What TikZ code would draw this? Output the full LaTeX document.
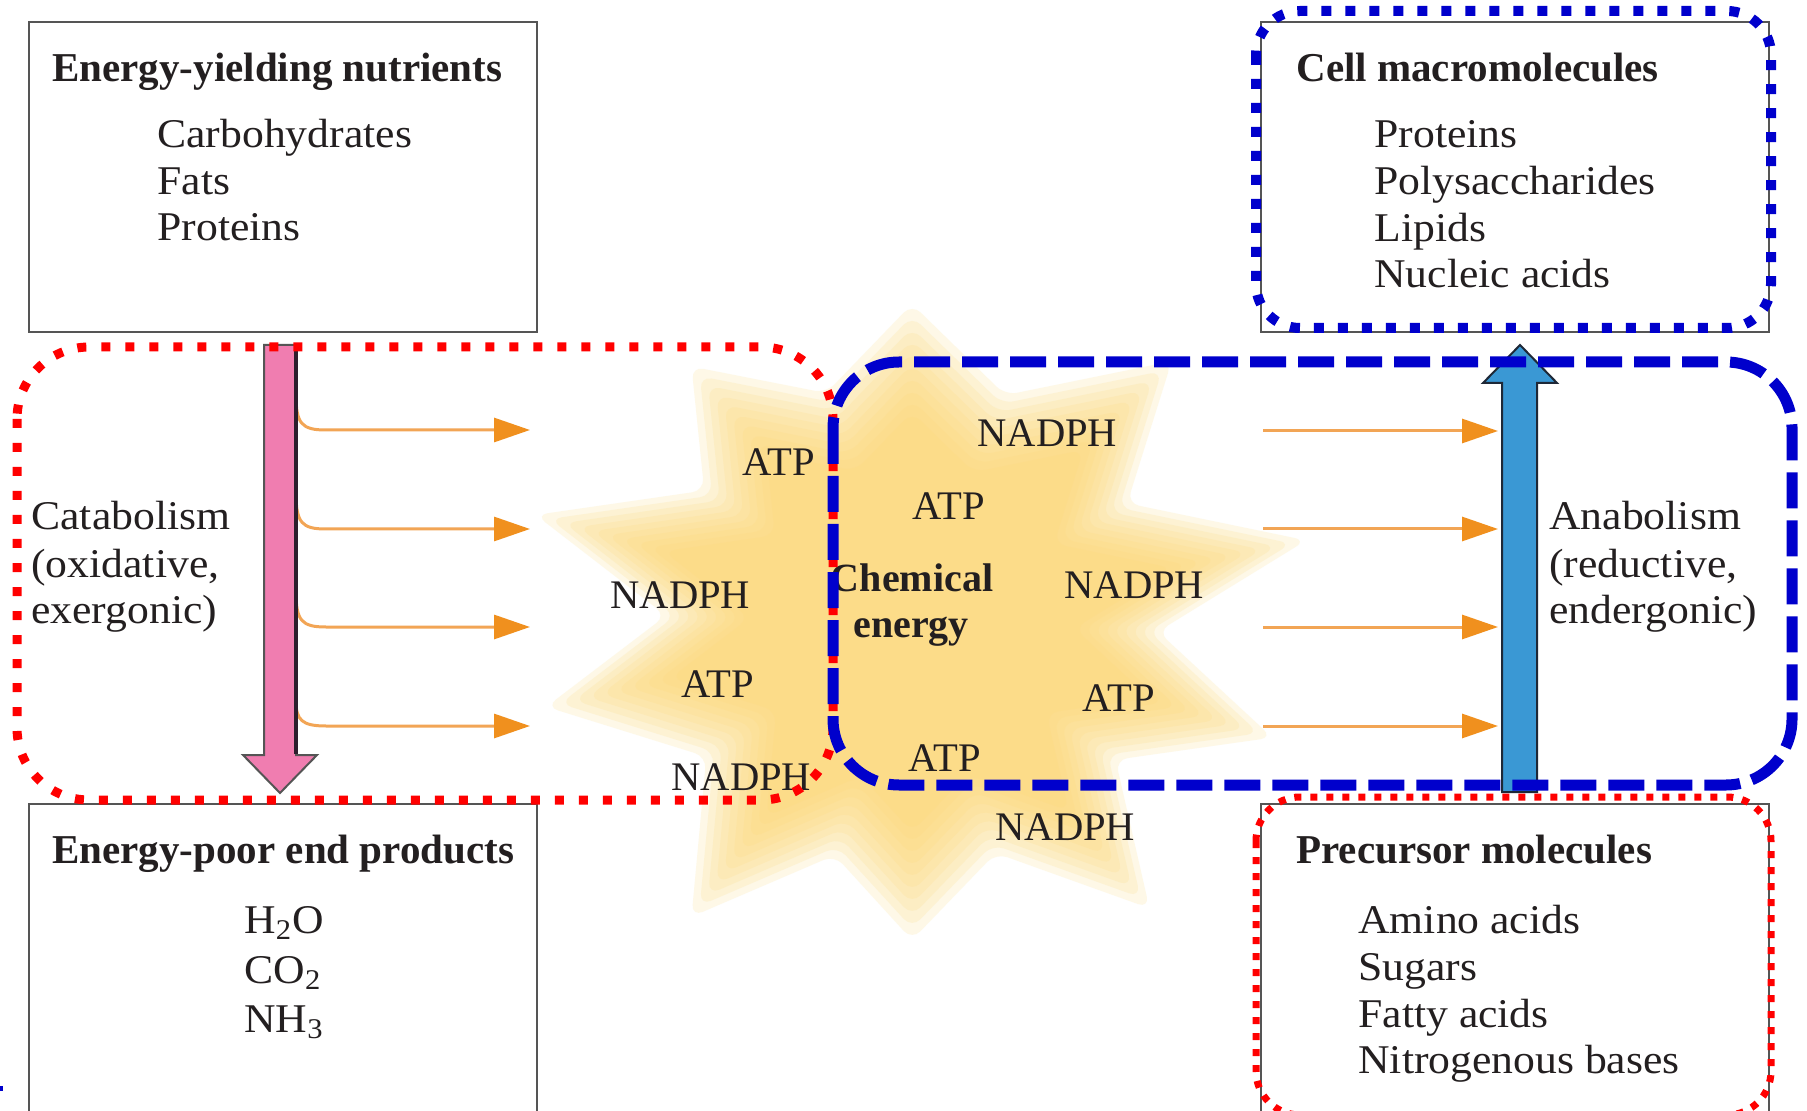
\documentclass[tikz,border=0pt]{standalone}
\usepackage{fontspec}
\newfontfamily\tms{Liberation Serif}
\newfontfamily\garm[FakeStretch=1.07]{Liberation Serif}
\usetikzlibrary{arrows.meta}
\definecolor{txt}{RGB}{35,31,32}
\definecolor{boxgray}{RGB}{85,85,85}
\definecolor{redd}{RGB}{255,0,0}
\definecolor{blued}{RGB}{0,0,204}
\definecolor{pinkf}{RGB}{240,125,176}
\definecolor{pinkedge}{RGB}{45,30,45}
\definecolor{bluef}{RGB}{58,152,212}
\definecolor{blueedge}{RGB}{30,40,55}
\definecolor{orline}{RGB}{242,165,85}
\definecolor{orhead}{RGB}{240,144,30}
\definecolor{starc}{RGB}{252,216,118}
\begin{document}
\begin{tikzpicture}[x=0.5pt,y=-0.5pt,
  boxst/.style={draw=boxgray, line width=1pt, inner sep=0pt, outer sep=0pt, anchor=north west},
  ttl/.style={anchor=base west, inner sep=0pt, font=\tms\bfseries\fontsize{20.5}{24}\selectfont, text=txt},
  itm/.style={anchor=base west, inner sep=0pt, font=\garm\fontsize{20.4}{24}\selectfont, text=txt},
  lbl/.style={anchor=base west, inner sep=0pt, font=\tms\fontsize{20.3}{24}\selectfont, text=txt},
  chem/.style={anchor=base, inner sep=0pt, font=\tms\bfseries\fontsize{20}{24}\selectfont, text=txt},
  orarrow/.style={draw=orline, line width=1.5pt, -{Triangle[length=18pt,width=12pt,color=orhead]}},
  bigred/.style={draw=redd, line width=4.5pt, dash pattern=on 4.5pt off 7.5pt, rounded corners=36pt},
  bigblue/.style={draw=blued, line width=5.5pt, dash pattern=on 18pt off 6pt, rounded corners=33pt},
  dotblue/.style={draw=blued, line width=5pt, dash pattern=on 5pt off 7pt, rounded corners=22pt},
  dotred/.style={draw=redd, line width=3.5pt, dash pattern=on 3.5pt off 4.5pt, rounded corners=22pt}
]
\useasboundingbox (0,0) rectangle (1807,1111);
\clip (0,0) rectangle (1807,1111);
\fill[white] (0,0) rectangle (1807,1111);

% soft star burst (layered to imitate a blur)
\foreach \s in {1.06,1.02,0.98,0.94,0.90,0.86,0.82,0.78,0.74,0.70}{
  \begin{scope}[shift={(912,622)}, scale=\s]
    \fill[starc, opacity=0.17, rounded corners=6pt]
      (0,-300) -- (88,-214) -- (245,-246) -- (203,-112) -- (372,-77) -- (232,9)
      -- (340,109) -- (192,130) -- (224,270) -- (79,218) -- (0,300) -- (-73,220)
      -- (-208,278) -- (-194,127) -- (-345,80) -- (-232,-6) -- (-355,-101)
      -- (-196,-124) -- (-208,-241) -- (-81,-216) -- cycle;
  \end{scope}
}

% boxes
\node[boxst, minimum width=254pt, minimum height=155pt] (nutr) at (29,22) {};
\node[boxst, minimum width=254pt, minimum height=155pt] (macro) at (1261,22) {};
\node[boxst, minimum width=254pt, minimum height=170pt] (endp) at (29,804) {};
\node[boxst, minimum width=254pt, minimum height=170pt] (prec) at (1261,804) {};

% box texts
\node[ttl] (t1) at (52,82) {Energy-yielding nutrients};
\node[itm] (t1a) at (157,148) {Carbohydrates};
\node[itm] (t1b) at (157,195) {Fats};
\node[itm] (t1c) at (157,241) {Proteins};

\node[ttl] (t2) at (1296,82) {Cell macromolecules};
\node[itm] (t2a) at (1374,148) {Proteins};
\node[itm] (t2b) at (1374,195) {Polysaccharides};
\node[itm] (t2c) at (1374,242) {Lipids};
\node[itm] (t2d) at (1374,288) {Nucleic acids};

\node[ttl] (t3) at (52,863) {Energy-poor end products};
\node[itm] (t3a) at (244,933) {H\textsubscript{2}O};
\node[itm] (t3b) at (244,983) {CO\textsubscript{2}};
\node[itm] (t3c) at (244,1032) {NH\textsubscript{3}};

\node[ttl] (t4) at (1296,863) {Precursor molecules};
\node[itm] (t4a) at (1358,933) {Amino acids};
\node[itm] (t4b) at (1358,980) {Sugars};
\node[itm] (t4c) at (1358,1027) {Fatty acids};
\node[itm] (t4d) at (1358,1073) {Nitrogenous bases};

% side labels
\node[itm] (cat1) at (31,530) {Catabolism};
\node[itm] (cat2) at (31,577) {(oxidative,};
\node[itm] (cat3) at (31,623) {exergonic)};
\node[itm] (ana1) at (1549,530) {Anabolism};
\node[itm] (ana2) at (1549,577) {(reductive,};
\node[itm] (ana3) at (1549,623) {endergonic)};

% centre labels
\node[lbl] (a1) at (742,476) {ATP};
\node[lbl] (n1) at (977,447) {NADPH};
\node[lbl] (a2) at (912,520) {ATP};
\node[lbl] (n2) at (610,608) {NADPH};
\node[lbl] (n3) at (1064,598) {NADPH};
\node[lbl] (a3) at (681,697) {ATP};
\node[lbl] (a4) at (1082,711) {ATP};
\node[lbl] (a5) at (908,771) {ATP};
\node[lbl] (n4) at (671,790) {NADPH};
\node[lbl] (n5) at (995,840) {NADPH};
\node[chem] (ce1) at (912,591) {Chemical};
\node[chem] (ce2) at (911,637) {energy};

% orange arrows (left, branching off catabolism)
\foreach \y/\d in {430/35,529/36,627/35,726/25}{
  \coordinate (ls\y) at (296,{\y-\d});
  \coordinate (le\y) at (530,\y);
  \draw[orarrow] (ls\y) .. controls (296,{\y-6}) and (302,\y) .. (326,\y) -- (le\y);
}
% orange arrows (right, into anabolism)
\foreach \y in {431,529,627,726}{
  \coordinate (rs\y) at (1263,\y);
  \coordinate (re\y) at (1498,\y);
  \draw[orarrow] (rs\y) -- (re\y);
}

% catabolism arrow (pink, downward)
\coordinate (catTop) at (280,345);
\coordinate (catTip) at (280,793);
\filldraw[fill=pinkf, draw=boxgray, line width=1pt]
  (264,345) -- (296,345) -- (296,755) -- (317,755) -- (catTip) -- (243,755) -- (264,755) -- cycle;
\draw[pinkedge, line width=2pt] (296,346) -- (296,754);

% anabolism arrow (blue, upward)
\coordinate (anaTip) at (1520,345);
\coordinate (anaBot) at (1520,792);
\filldraw[fill=bluef, draw=blueedge, line width=1pt]
  (1502,792) -- (1502,383) -- (1483,383) -- (anaTip) -- (1557,383) -- (1537,383) -- (1537,792) -- cycle;

% enclosing outlines
\draw[bigred] (17,347) rectangle (833,800);
\draw[bigblue] (833,362) rectangle (1792,785);
\draw[dotblue] (1256,11) rectangle (1771,328);
\draw[dotred] (1256,797) rectangle (1771,1115);

\fill[blued] (0,1086) rectangle (3,1091);
\end{tikzpicture}
\end{document}
